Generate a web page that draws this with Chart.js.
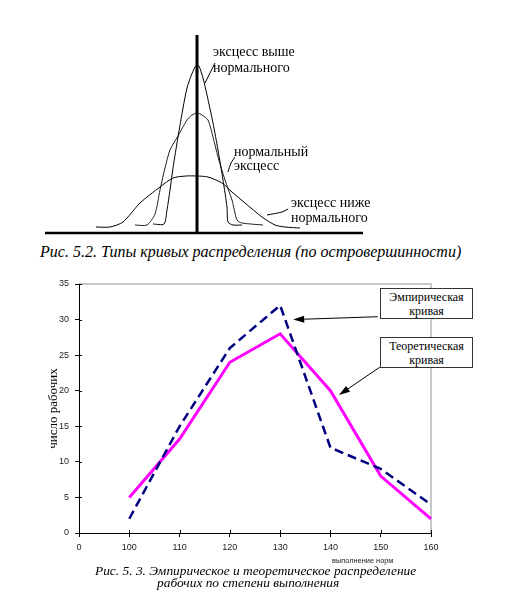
<!DOCTYPE html>
<html><head><meta charset="utf-8">
<script src="https://cdn.jsdelivr.net/npm/chart.js@4.4.1/dist/chart.umd.min.js"></script>
<style>
html,body{margin:0;padding:0;background:#fff;}
#page{position:relative;width:509px;height:603px;overflow:hidden;background:#fff;}
canvas{position:absolute;left:0;}
.t{position:absolute;white-space:nowrap;font-family:'Liberation Serif','Tinos','Times New Roman','DejaVu Serif',serif;color:#000;line-height:1;}
.lbl{font-size:14px;}
.cap{font-style:italic;}
.box{position:absolute;border:1px solid #333;background:#fff;text-align:center;font-family:'Liberation Serif','Tinos','Times New Roman','DejaVu Serif',serif;font-size:12px;line-height:14px;box-sizing:border-box;padding-top:1px;color:#000;}
.xt{position:absolute;white-space:nowrap;font-family:'Liberation Sans',Arial,sans-serif;font-size:7.4px;line-height:1;color:#222;}
</style></head><body>
<div id="page">
<canvas id="top" width="509" height="240" style="top:0;width:509px;height:240px"></canvas>
<canvas id="bot" width="509" height="333" style="top:270px;width:509px;height:333px"></canvas>

<div class="t lbl" style="left:213px;top:44.5px">эксцесс выше</div>
<div class="t lbl" style="left:213px;top:61px">нормального</div>
<div class="t lbl" style="left:234px;top:144.5px">нормальный</div>
<div class="t lbl" style="left:234px;top:158.5px">эксцесс</div>
<div class="t lbl" style="left:291px;top:195.5px">эксцесс ниже</div>
<div class="t lbl" style="left:291px;top:210.5px">нормального</div>
<div class="t cap" style="left:40px;top:243.6px;font-size:16px">Рис. 5.2. Типы кривых распределения (по островершинности)</div>

<div class="box" style="left:380px;top:288px;width:93px;height:31px">Эмпирическая<br>кривая</div>
<div class="box" style="left:380px;top:337px;width:93px;height:31px">Теоретическая<br>кривая</div>
<div class="xt" style="left:332px;top:557px">выполнение норм</div>
<div class="t cap" style="left:95px;top:564px;font-size:13.4px">Рис. 5. 3. Эмпирическое и теоретическое распределение</div>
<div class="t cap" style="left:157px;top:576px;font-size:13.4px">рабочих по степени выполнения</div>
</div>
<script>
// ---- Fig 5.2 (sketch of distribution curves, arbitrary units) ----
const curveHigh = [[-4.4,0.9],[-3.3,0.9],[-3.0,2.3],[-2.7,4.3],[-2.4,6.5],[-1.9,9.6],[-1.4,12.5],[-1.0,14.5],[-0.6,15.7],[-0.2,16.6],[0,16.8],
  [0.2,16.7],[0.6,15.5],[1.0,13.8],[1.6,11.0],[2.1,8.3],[2.6,5.3],[3.0,2.6],[3.1,1.1],[3.6,0.8],[4.5,0.8]];
const curveNormal = [[-6.2,0.8],[-5.0,0.8],[-4.2,1.9],[-3.7,4.3],[-3.2,6.5],[-2.7,8.3],[-1.9,9.7],[-1.0,11.3],[-0.5,11.8],[0,12.0],
  [0.5,11.8],[1.1,11.3],[1.6,9.6],[2.1,7.6],[2.8,5.3],[3.5,3.3],[4.0,1.3],[4.5,1.0],[6.6,0.8]];
const curveLow = [[-10.1,0.6],[-8.7,0.6],[-7.4,1.1],[-5.7,3.0],[-3.7,4.6],[-2.4,5.5],[-1.1,5.7],[0,5.7],
  [1.1,5.6],[2.5,5.0],[3.5,4.1],[4.8,3.0],[6.5,1.6],[7.8,0.8],[8.8,0.6],[10.3,0.5]];
const baseAxis = [[-15.2,0],[16.6,0]];
const vertAxis = [[0,0],[0,19.8]];
const leaderHigh = [[1.8,17.0],[0.8,15.0]];
const leaderNormal = [[3.8,7.6],[3.4,7.0],[3.1,6.1]];
const leaderLow = [[9.1,2.4],[8.5,2.1],[7.0,1.8]];

// ---- Fig 5.3 data ----
const normLabels = ['0','100','110','120','130','140','150','160'];
const empirical   = [null, 2, 15, 26, 32, 12, 9, 4];
const theoretical = [null, 5, 13.2, 24, 28, 20, 8, 2];
const yTickMax = 35, yTickStep = 5;

const toXY = a => a.map(p => ({x:p[0], y:p[1]}));
const line = (pts, w, extra) => Object.assign({data: toXY(pts), showLine:true, pointRadius:0, borderColor:'#000', borderWidth:w, tension:0.25, clip:false, fill:false}, extra||{});

new Chart(document.getElementById('top'), {
  type:'scatter',
  data:{datasets:[
    line(vertAxis, 3, {tension:0}),
    line(baseAxis, 2.5, {tension:0}),
    line(curveHigh, 1),
    line(curveNormal, 1, {borderColor:'#222'}),
    line(curveLow, 1),
    line(leaderHigh, 1, {tension:0}),
    line(leaderNormal, 1, {tension:0.3}),
    line(leaderLow, 1, {tension:0.3})
  ]},
  options:{responsive:false, animation:false, events:[], layout:{padding:0},
    plugins:{legend:{display:false}, tooltip:{enabled:false}},
    scales:{x:{type:'linear', display:false, min:-19.7, max:31.2}, y:{type:'linear', display:false, min:-0.7, max:23.3}}}
});

// arrows (positions in scale units: category index, value)
const arrowSpecs = [ {from:[5.94,30.4], to:[4.26,30.0]}, {from:[5.98,23.3], to:[5.17,19.4]} ];
const framePlugin = {
  id:'frame',
  beforeDatasetsDraw(chart){
    const {ctx, chartArea:a} = chart; const xs = chart.scales.x, ys = chart.scales.y;
    ctx.save();
    ctx.strokeStyle = '#c8c8c8'; ctx.lineWidth = 2;
    ctx.beginPath(); ctx.moveTo(a.left, a.top); ctx.lineTo(a.right, a.top); ctx.lineTo(a.right, a.bottom); ctx.stroke();
    ctx.strokeStyle = '#000'; ctx.lineWidth = 1; ctx.beginPath();
    ys.ticks.forEach((t,i)=>{ const y = Math.round(ys.getPixelForTick(i))+0.5; ctx.moveTo(a.left, y); ctx.lineTo(a.left+3, y); });
    xs.ticks.forEach((t,i)=>{ const x = Math.round(xs.getPixelForTick(i))+0.5; ctx.moveTo(x, a.bottom); ctx.lineTo(x, a.bottom-3); });
    ctx.stroke(); ctx.restore();
  },
  afterDatasetsDraw(chart){
    const {ctx} = chart; const xs = chart.scales.x, ys = chart.scales.y;
    ctx.save(); ctx.strokeStyle = '#000'; ctx.fillStyle = '#000'; ctx.lineWidth = 1;
    arrowSpecs.forEach(s=>{
      const x1 = xs.getPixelForValue(s.from[0]), y1 = ys.getPixelForValue(s.from[1]);
      const x2 = xs.getPixelForValue(s.to[0]), y2 = ys.getPixelForValue(s.to[1]);
      const ang = Math.atan2(y2-y1, x2-x1), L = 11, W = 3.5;
      const bx = x2 - L*Math.cos(ang), by = y2 - L*Math.sin(ang);
      ctx.beginPath(); ctx.moveTo(x1,y1); ctx.lineTo(bx,by); ctx.stroke();
      ctx.beginPath(); ctx.moveTo(x2,y2);
      ctx.lineTo(bx + W*Math.sin(ang), by - W*Math.cos(ang));
      ctx.lineTo(bx - W*Math.sin(ang), by + W*Math.cos(ang));
      ctx.closePath(); ctx.fill();
    });
    ctx.restore();
  }
};

const tickFont = {family:"'Liberation Sans', Arial, sans-serif", size:9};
new Chart(document.getElementById('bot'), {
  type:'line',
  data:{labels: normLabels, datasets:[
    {label:'Эмпирическая кривая', data: empirical, borderColor:'#000080', borderWidth:2.5, borderDash:[9,5], pointRadius:0, tension:0, clip:5, fill:false},
    {label:'Теоретическая кривая', data: theoretical, borderColor:'#ff00ff', borderWidth:3, pointRadius:0, tension:0, clip:5, fill:false}
  ]},
  options:{responsive:false, animation:false, events:[],
    layout:{padding:{top:14, right:78, left:0, bottom:40}},
    plugins:{legend:{display:false}, tooltip:{enabled:false}},
    scales:{
      x:{type:'category', offset:false,
        grid:{display:true, drawOnChartArea:false, drawTicks:true, tickLength:4, color:'#000'},
        border:{display:true, color:'#000', width:1},
        ticks:{color:'#222', font:tickFont, padding:5, maxRotation:0, autoSkip:false},
        afterFit: s => { s.height = 30; }},
      y:{type:'linear', min:0, max:yTickMax,
        ticks:{stepSize:yTickStep, color:'#222', font:tickFont, padding:6},
        grid:{display:true, drawOnChartArea:false, drawTicks:true, tickLength:4, color:'#000'},
        border:{display:true, color:'#000', width:1},
        title:{display:true, text:'число рабочих', color:'#000', font:{family:"'Liberation Serif', 'Tinos', 'Times New Roman', 'DejaVu Serif', serif", size:13}, padding:{top:46, bottom:0}},
        afterFit: s => { s.width = 79; }}
    }},
  plugins:[framePlugin]
});
</script>
</body></html>
